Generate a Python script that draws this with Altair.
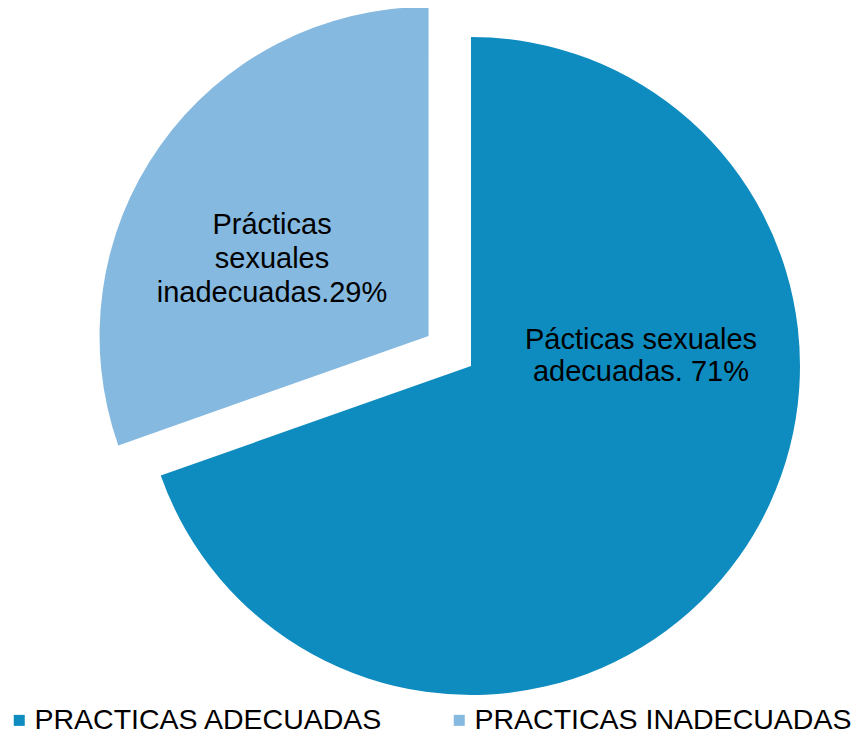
import altair as alt
import pandas as pd

categories = ["PRACTICAS ADECUADAS", "PRACTICAS INADECUADAS"]
values = [69.6, 30.4]
colors = ["#0e8bbf", "#85b9df"]
label_dark = "Pácticas sexuales\nadecuadas. 71%"
label_light = "Prácticas\nsexuales\ninadecuadas.29%"

df = pd.DataFrame({"cat": categories, "value": values, "order": [0, 1]})

CX, CY, R, EXPLODE = 463, 358, 329, 52
FONT = "Liberation Sans"

base = alt.Chart(df)

pie = base.transform_window(
    end="sum(value)", sort=[alt.SortField("order")]
).transform_calculate(
    start="datum.end - datum.value",
    ex=f"datum.cat == '{categories[1]}' ? {EXPLODE} : 0",
).transform_calculate(
    mid="(datum.start + datum.end) / 200 * 2 * PI",
).transform_calculate(
    px=f"{CX} + datum.ex * sin(datum.mid)",
    py=f"{CY} - datum.ex * cos(datum.mid)",
).mark_arc(radius=R, stroke=None).encode(
    theta=alt.Theta("start:Q", scale=alt.Scale(domain=[0, 100], range=[0, 6.283185307])),
    theta2="end:Q",
    x=alt.X("px:Q", scale=None),
    y=alt.Y("py:Q", scale=None),
    color=alt.Color(
        "cat:N",
        scale=alt.Scale(domain=categories, range=colors),
        legend=alt.Legend(
            title=None,
            orient="none",
            direction="horizontal",
            legendX=-3,
            legendY=698,
            symbolType="square",
            symbolSize=121,
            symbolStrokeWidth=0,
            labelFontSize=28.5,
            labelFont=FONT,
            labelColor="#000000",
            labelLimit=600,
            labelOffset=1,
            columnPadding=62,
            padding=0,
        ),
    ),
)

txt_dark = alt.Chart(pd.DataFrame({"t": [label_dark]})).mark_text(
    font=FONT, fontSize=29, lineBreak="\n", lineHeight=32, align="center",
    baseline="alphabetic", color="#000000"
).encode(text="t:N", x=alt.value(633), y=alt.value(341))

txt_light = alt.Chart(pd.DataFrame({"t": [label_light]})).mark_text(
    font=FONT, fontSize=29, lineBreak="\n", lineHeight=34, align="center",
    baseline="alphabetic", color="#000000"
).encode(text="t:N", x=alt.value(264), y=alt.value(226))

chart = alt.layer(pie, txt_dark, txt_light).properties(
    width=850, height=727, autosize=alt.AutoSizeParams(type="none"), padding=0
).configure_view(stroke=None)

chart.save("out.html", embed_options={"renderer": "svg", "actions": False})
